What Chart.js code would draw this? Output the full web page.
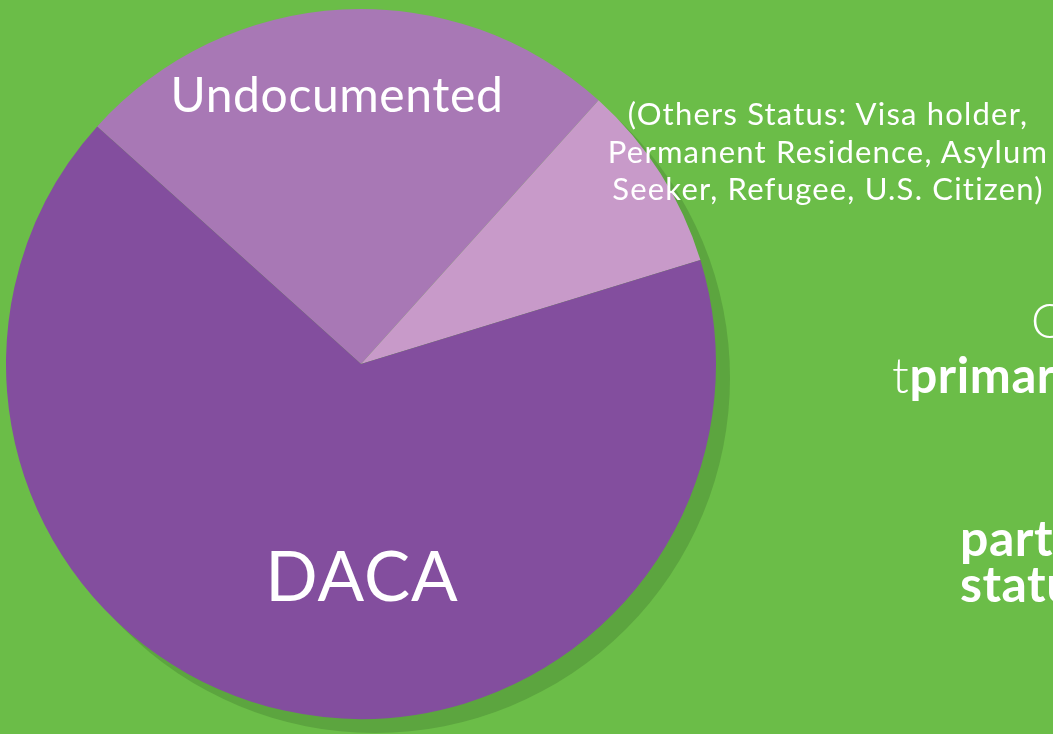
<!DOCTYPE html>
<html>
<head>
<meta charset="utf-8">
<script src="https://cdn.jsdelivr.net/npm/chart.js@4/dist/chart.umd.min.js"></script>
<style>
  html, body { margin: 0; padding: 0; width: 1053px; height: 734px; overflow: hidden; background: #6bbd48; }
  #wrap { position: absolute; left: 0; top: 0; width: 1053px; height: 734px; }
  canvas { position: absolute; left: 0; top: 0; }
  .t { position: absolute; color: #fff; font-family: Lato, "Open Sans", sans-serif; white-space: nowrap; line-height: 1; }
</style>
</head>
<body>
<div id="wrap">
  <canvas id="c" width="1053" height="734"></canvas>
  <div class="t" id="lblUndoc" style="left:337px; top:70px; transform:translateX(-50%); font-size:48px; font-weight:400; letter-spacing:0.6px;">Undocumented</div>
  <div class="t" id="lblDaca" style="left:362px; top:540px; transform:translateX(-50%); font-size:69px; font-weight:400; letter-spacing:1px;">DACA</div>
  <div class="t" id="lblOthers" style="left:828px; top:95px; transform:translateX(-50%); font-size:31px; font-weight:400; line-height:37.5px; text-align:center; letter-spacing:1.2px;">(Others Status: Visa holder,<br>Permanent Residence, Asylum<br>Seeker, Refugee, U.S. Citizen)</div>
  <div class="t" style="left:1031px; top:296px; font-size:48px; font-weight:300;">O</div>
  <div class="t" style="left:892px; top:350px; font-size:49px; letter-spacing:0.6px;"><span style="font-weight:300;">t</span><span style="font-weight:700;">primar</span></div>
  <div class="t" style="left:960px; top:514px; font-size:50px; font-weight:700; line-height:46px; letter-spacing:0.5px;">part<br>statu</div>
</div>
<script>
const categories = ['Undocumented', 'Others', 'DACA'];
const values = [25, 8.6, 66.4];
const sliceColors = ['#a878b5', '#c89ac9', '#834e9e'];
const shadowColor = '#5ca53f';

const shadowPlugin = {
  id: 'pieShadow',
  beforeDatasetsDraw(chart) {
    const a = chart.getDatasetMeta(0).data[0];
    if (!a) return;
    const ctx = chart.ctx;
    ctx.save();
    ctx.fillStyle = shadowColor;
    ctx.beginPath();
    ctx.arc(a.x + 14, a.y + 14, a.outerRadius, 0, Math.PI * 2);
    ctx.fill();
    ctx.restore();
  }
};

new Chart(document.getElementById('c'), {
  type: 'pie',
  data: {
    labels: categories,
    datasets: [{
      data: values,
      backgroundColor: sliceColors,
      borderWidth: 0,
      hoverOffset: 0,
      offset: 0
    }]
  },
  options: {
    responsive: false,
    animation: false,
    events: [],
    rotation: -48,
    layout: { padding: { left: 6, top: 9, right: 337, bottom: 15 } },
    plugins: { legend: { display: false }, tooltip: { enabled: false } }
  },
  plugins: [shadowPlugin]
});
</script>
</body>
</html>
